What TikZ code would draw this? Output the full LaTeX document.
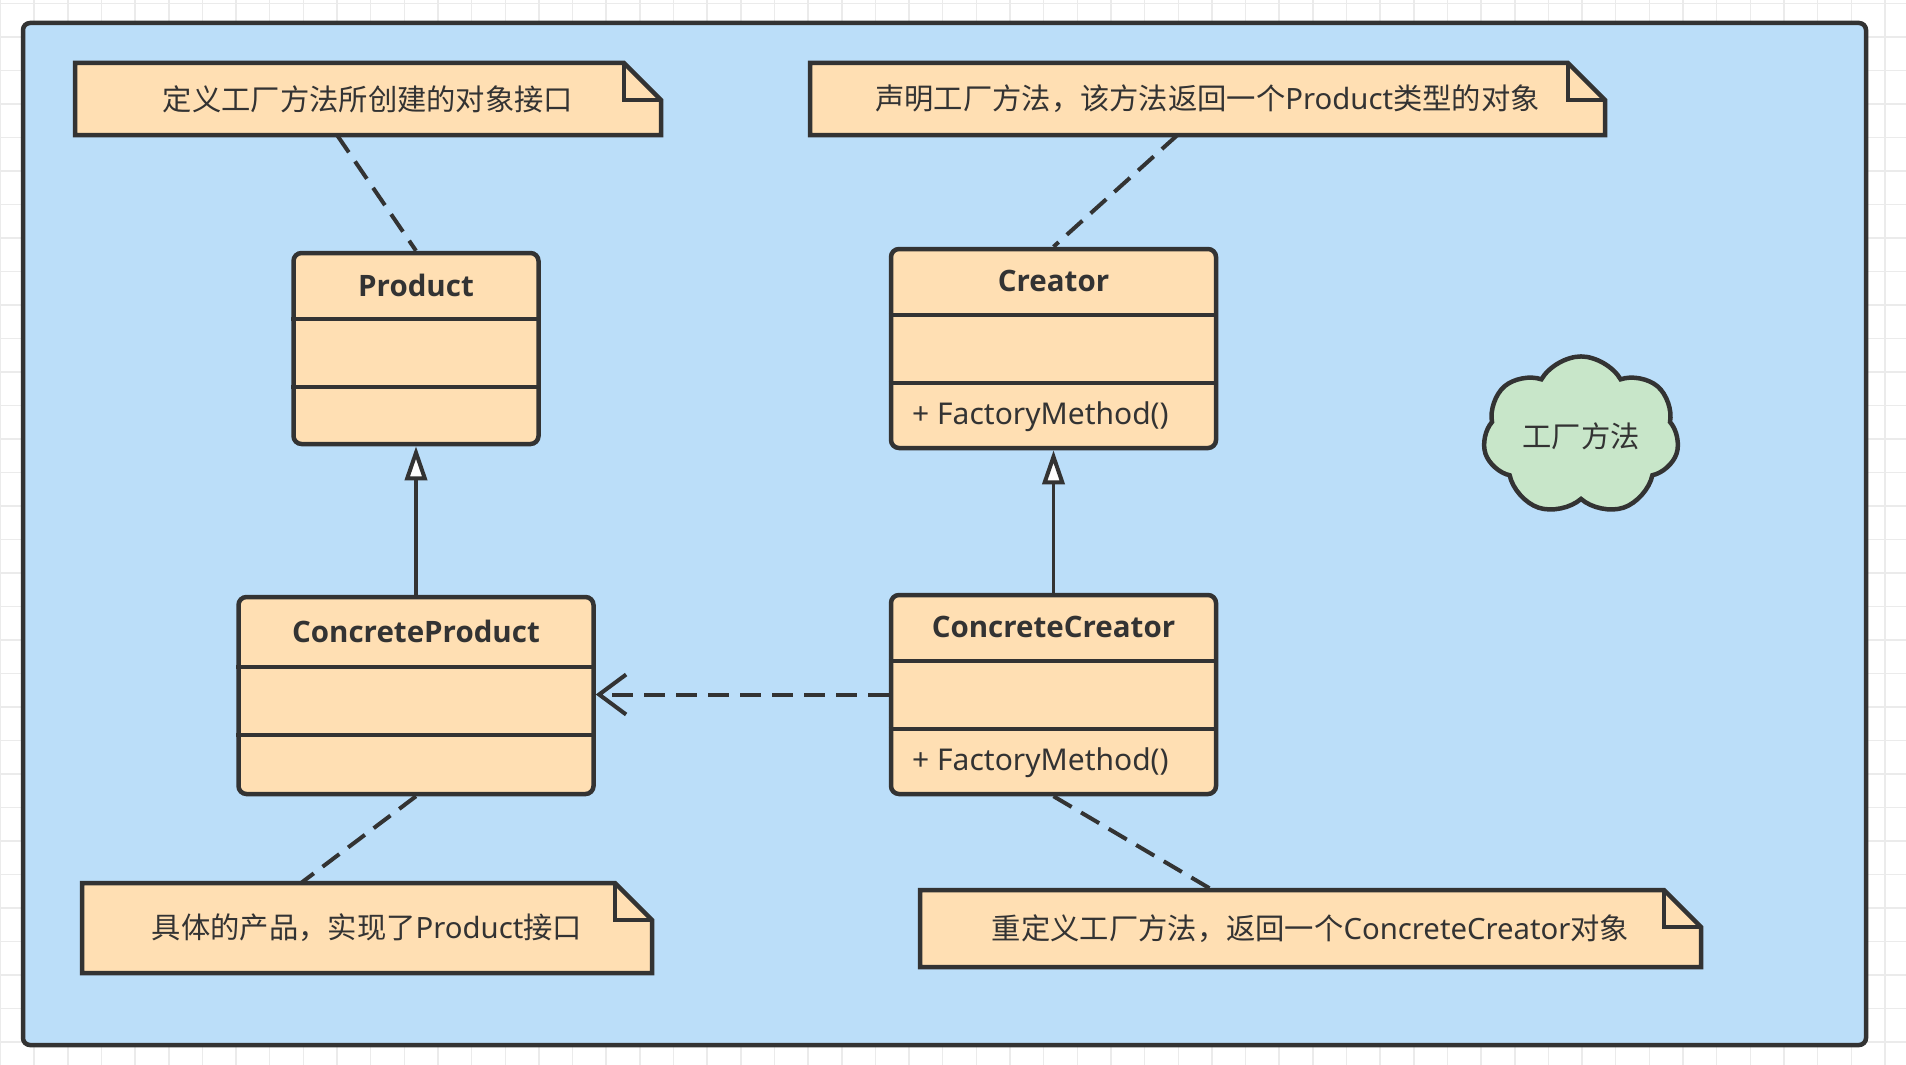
\documentclass[tikz,border=0pt]{standalone}
\usepackage{fontspec}
\setmainfont{Noto Sans CJK SC}
\newfontfamily\lat{Noto Sans}
\newfontfamily\latb{Open Sans}
\usetikzlibrary{arrows.meta,shapes.symbols,calc}
\definecolor{bluebg}{HTML}{BBDEF9}
\definecolor{notefill}{HTML}{FFDFB3}
\definecolor{cloudfill}{HTML}{C8E6C9}
\definecolor{ink}{HTML}{333333}
\definecolor{gridc}{HTML}{EBEBEB}
\pgfdeclarelayer{bottom}
\pgfdeclarelayer{back}
\pgfsetlayers{bottom,back,main}
\newcommand\cjksz{\fontsize{29.3pt}{32pt}\selectfont}
\newcommand\hdrsz{\fontsize{29.5pt}{32pt}\selectfont}
\newcommand\methsz{\fontsize{30pt}{32pt}\selectfont}
\newcommand\notefold[1]{%
  \begin{pgfonlayer}{back}
    \draw[noteline] (#1.north west) -- ([xshift=-37pt]#1.north east) -- ([yshift=-37pt]#1.north east) -- (#1.south east) -- (#1.south west) -- cycle;
    \draw[noteline, fill=none] ([xshift=-37pt]#1.north east) -- ([xshift=-37pt,yshift=-37pt]#1.north east) -- ([yshift=-37pt]#1.north east);
  \end{pgfonlayer}}
\tikzset{
  gridline/.style={draw=gridc, line width=1.5pt},
  frame/.style={draw=ink, line width=4.5pt, fill=bluebg, rounded corners=7pt, inner sep=0pt},
  notetxt/.style={inner sep=0pt, outer sep=0pt, text=ink, font=\cjksz},
  noteline/.style={draw=ink, line width=4.5pt, fill=notefill, line join=miter},
  cls/.style={draw=ink, line width=4.5pt, fill=notefill, rounded corners=8pt, inner sep=0pt},
  divider/.style={draw=ink, line width=4.5pt},
  hdr/.style={inner sep=0pt, text=ink, font=\latb\bfseries\hdrsz},
  meth/.style={inner sep=0pt, anchor=west, text=ink, font=\lat\methsz},
  dashc/.style={draw=ink, line width=4pt, dash pattern=on 21pt off 11pt},
  solidc/.style={draw=ink, line width=3.2pt},
  inherit/.style={-{Triangle[fill=white, length=34pt, width=22pt, line width=4pt]}},
  depend/.style={-{Straight Barb[length=27pt, width=40pt, line width=4pt]}},
  cloudbox/.style={cloud, cloud puffs=7, cloud puff arc=120, aspect=1.27, draw=ink, line width=4.5pt, fill=cloudfill, minimum width=196pt, minimum height=154pt, inner sep=0pt, text=ink, font=\cjksz},
}
\begin{document}
\begin{tikzpicture}[x=1pt, y=-1pt]
\useasboundingbox (0,0) rectangle (1906,1065);
\begin{pgfonlayer}{bottom}
  \fill[white] (0,0) rectangle (1906,1065);
  \foreach \i in {0,...,56} {\draw[gridline] (\i*33.65+0.5,0) -- (\i*33.65+0.5,1065);}
  \foreach \j in {0,...,31} {\draw[gridline] (0,\j*33.5+3.5) -- (1906,\j*33.5+3.5);}
  \node[frame, minimum width=1843pt, minimum height=1022pt] (frame) at (944.5,534) {};
\end{pgfonlayer}

% notes
\node[notetxt, minimum width=586pt, minimum height=72pt] (n1) at (368,99) {定义工厂方法所创建的对象接口};
\notefold{n1}
\node[notetxt, minimum width=795pt, minimum height=72pt] (n2) at (1207.5,99) {声明工厂方法，该方法返回一个{\lat Product}类型的对象};
\notefold{n2}
\node[notetxt, minimum width=570pt, minimum height=90pt] (n3) at (367,928) {具体的产品，实现了{\lat Product}接口};
\notefold{n3}
\node[notetxt, minimum width=781pt, minimum height=77pt] (n4) at (1310.5,928.5) {重定义工厂方法，返回一个{\lat ConcreteCreator}对象};
\notefold{n4}

% classes
\node[cls, minimum width=245pt, minimum height=191pt] (product) at (416,348.5) {};
\draw[divider] (product.west |- 0,319) -- (product.east |- 0,319);
\draw[divider] (product.west |- 0,387) -- (product.east |- 0,387);
\node[hdr] (productname) at (416,285) {Product};

\node[cls, minimum width=325pt, minimum height=199pt] (creator) at (1053.5,348.5) {};
\draw[divider] (creator.west |- 0,315) -- (creator.east |- 0,315);
\draw[divider] (creator.west |- 0,383) -- (creator.east |- 0,383);
\node[hdr] (creatorname) at (1053.5,281) {Creator};
\node[meth] (creatormeth) at (912,417) {+ FactoryMethod()};

\node[cls, minimum width=355pt, minimum height=197pt] (cp) at (416,695.5) {};
\draw[divider] (cp.west |- 0,667) -- (cp.east |- 0,667);
\draw[divider] (cp.west |- 0,735) -- (cp.east |- 0,735);
\node[hdr] (cpname) at (416,631) {ConcreteProduct};

\node[cls, minimum width=325pt, minimum height=199pt] (cc) at (1053.5,694.5) {};
\draw[divider] (cc.west |- 0,661) -- (cc.east |- 0,661);
\draw[divider] (cc.west |- 0,729) -- (cc.east |- 0,729);
\node[hdr] (ccname) at (1053.5,627) {ConcreteCreator};
\node[meth] (ccmeth) at (912,763) {+ FactoryMethod()};

% cloud
\node[cloudbox] (cloud) at (1581,436) {工厂方法};

% connectors
\draw[dashc] ([xshift=-31pt]n1.south) -- (product.north);
\draw[dashc] ([xshift=-30pt]n2.south) -- (creator.north);
\draw[dashc] (cp.south) -- ([xshift=-66pt]n3.north);
\draw[dashc] (cc.south) -- ([xshift=-98pt]n4.north);
\draw[solidc, inherit] (cp.north) -- (product.south);
\draw[solidc, inherit] (cc.north) -- (creator.south);
\draw[dashc, depend] (cc.west) -- (cc.west -| cp.east);
\end{tikzpicture}
\end{document}
